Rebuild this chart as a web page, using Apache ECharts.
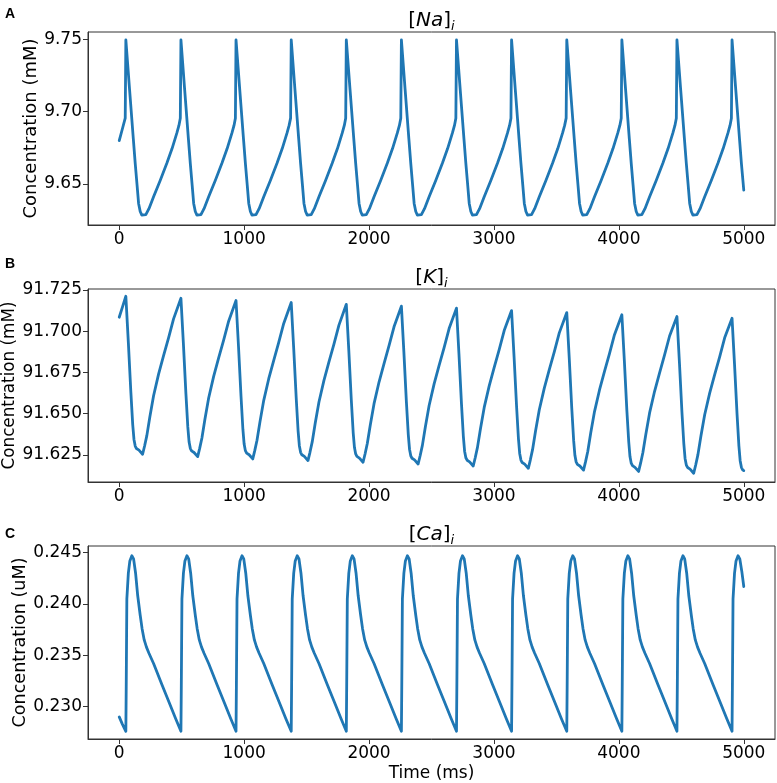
<!DOCTYPE html>
<html>
<head>
<meta charset="utf-8">
<script src="https://cdn.jsdelivr.net/npm/echarts@6/dist/echarts.min.js"></script>
<style>html,body{margin:0;padding:0;background:#fff}#c{width:777px;height:783px}</style>
</head>
<body>
<div id="c"></div>
<script>
// ---------------- data ----------------
const timeTicks = [0, 1000, 2000, 3000, 4000, 5000];
const naTicks = [9.65, 9.70, 9.75];
const kTicks = [91.625, 91.650, 91.675, 91.700, 91.725];
const caTicks = [0.230, 0.235, 0.240, 0.245];

const panelTitles = ['Na', 'K', 'Ca'];
const panelLetters = ['A', 'B', 'C'];
const yNames = ['Concentration (mM)', 'Concentration (mM)', 'Concentration (uM)'];
const xName = 'Time (ms)';

const naData = [
[0,9.680],[25,9.688],[48,9.6955],
[53,9.7495],[83,9.7150],[113,9.6810],[128,9.6643],[143,9.6490],[155,9.6366],[168,9.6310],[181,9.6285],[195,9.6276],[213,9.6288],[238,9.6330],[275,9.6412],[328,9.6525],[381,9.6643],[423,9.6745],[461,9.6851],[478,9.6905],
[489,9.6955],[494,9.7495],[524,9.7150],[554,9.6810],[569,9.6643],[584,9.6490],[596,9.6366],[609,9.6310],[622,9.6285],[636,9.6276],[654,9.6288],[679,9.6330],[716,9.6412],[769,9.6525],[822,9.6643],[864,9.6745],[902,9.6851],[919,9.6905],
[930,9.6955],[935,9.7495],[965,9.7150],[995,9.6810],[1010,9.6643],[1025,9.6490],[1037,9.6366],[1050,9.6310],[1063,9.6285],[1077,9.6276],[1095,9.6288],[1120,9.6330],[1157,9.6412],[1210,9.6525],[1263,9.6643],[1305,9.6745],[1343,9.6851],[1360,9.6905],
[1372,9.6955],[1377,9.7495],[1407,9.7150],[1437,9.6810],[1452,9.6643],[1467,9.6490],[1479,9.6366],[1492,9.6310],[1505,9.6285],[1519,9.6276],[1537,9.6288],[1562,9.6330],[1599,9.6412],[1652,9.6525],[1705,9.6643],[1747,9.6745],[1785,9.6851],[1802,9.6905],
[1813,9.6955],[1818,9.7495],[1848,9.7150],[1878,9.6810],[1893,9.6643],[1908,9.6490],[1920,9.6366],[1933,9.6310],[1946,9.6285],[1960,9.6276],[1978,9.6288],[2003,9.6330],[2040,9.6412],[2093,9.6525],[2146,9.6643],[2188,9.6745],[2226,9.6851],[2243,9.6905],
[2254,9.6955],[2259,9.7495],[2289,9.7150],[2319,9.6810],[2334,9.6643],[2349,9.6490],[2361,9.6366],[2374,9.6310],[2387,9.6285],[2401,9.6276],[2419,9.6288],[2444,9.6330],[2481,9.6412],[2534,9.6525],[2587,9.6643],[2629,9.6745],[2667,9.6851],[2684,9.6905],
[2695,9.6955],[2700,9.7495],[2730,9.7150],[2760,9.6810],[2775,9.6643],[2790,9.6490],[2802,9.6366],[2815,9.6310],[2828,9.6285],[2842,9.6276],[2860,9.6288],[2885,9.6330],[2922,9.6412],[2975,9.6525],[3028,9.6643],[3070,9.6745],[3108,9.6851],[3125,9.6905],
[3136,9.6955],[3141,9.7495],[3171,9.7150],[3201,9.6810],[3216,9.6643],[3231,9.6490],[3243,9.6366],[3256,9.6310],[3269,9.6285],[3283,9.6276],[3301,9.6288],[3326,9.6330],[3363,9.6412],[3416,9.6525],[3469,9.6643],[3511,9.6745],[3549,9.6851],[3566,9.6905],
[3578,9.6955],[3583,9.7495],[3613,9.7150],[3643,9.6810],[3658,9.6643],[3673,9.6490],[3685,9.6366],[3698,9.6310],[3711,9.6285],[3725,9.6276],[3743,9.6288],[3768,9.6330],[3805,9.6412],[3858,9.6525],[3911,9.6643],[3953,9.6745],[3991,9.6851],[4008,9.6905],
[4019,9.6955],[4024,9.7495],[4054,9.7150],[4084,9.6810],[4099,9.6643],[4114,9.6490],[4126,9.6366],[4139,9.6310],[4152,9.6285],[4166,9.6276],[4184,9.6288],[4209,9.6330],[4246,9.6412],[4299,9.6525],[4352,9.6643],[4394,9.6745],[4432,9.6851],[4449,9.6905],
[4460,9.6955],[4465,9.7495],[4495,9.7150],[4525,9.6810],[4540,9.6643],[4555,9.6490],[4567,9.6366],[4580,9.6310],[4593,9.6285],[4607,9.6276],[4625,9.6288],[4650,9.6330],[4687,9.6412],[4740,9.6525],[4793,9.6643],[4835,9.6745],[4873,9.6851],[4890,9.6905],
[4901,9.6955],[4906,9.7495],[4936,9.7150],[4966,9.6810],[4981,9.6643],[5000,9.6458]
];

const kData = [
[0,91.7085],[25,91.7145],
[53,91.7212],[73,91.6932],[93,91.6632],[108,91.6434],[118,91.6344],[128,91.6304],[138,91.6289],[158,91.6279],[173,91.6269],[187,91.6254],[203,91.6304],[221,91.6367],[245,91.6480],[275,91.6609],[315,91.6740],[355,91.6852],[395,91.6960],[435,91.7075],
[494,91.7200],[514,91.6920],[534,91.6620],[549,91.6420],[559,91.6330],[569,91.6290],[579,91.6275],[599,91.6265],[614,91.6255],[628,91.6240],[644,91.6290],[662,91.6353],[686,91.6466],[716,91.6595],[756,91.6726],[796,91.6838],[836,91.6946],[876,91.7061],
[935,91.7186],[955,91.6906],[975,91.6606],[990,91.6406],[1000,91.6316],[1010,91.6276],[1020,91.6261],[1040,91.6251],[1055,91.6241],[1069,91.6226],[1085,91.6276],[1103,91.6339],[1127,91.6452],[1157,91.6581],[1197,91.6712],[1237,91.6824],[1277,91.6932],[1317,91.7047],
[1377,91.7174],[1397,91.6894],[1417,91.6594],[1432,91.6396],[1442,91.6306],[1452,91.6266],[1462,91.6251],[1482,91.6241],[1497,91.6231],[1511,91.6216],[1527,91.6266],[1545,91.6329],[1569,91.6442],[1599,91.6571],[1639,91.6702],[1679,91.6814],[1719,91.6922],[1759,91.7037],
[1818,91.7163],[1838,91.6883],[1858,91.6583],[1873,91.6386],[1883,91.6296],[1893,91.6256],[1903,91.6241],[1923,91.6231],[1938,91.6221],[1952,91.6206],[1968,91.6256],[1986,91.6319],[2010,91.6432],[2040,91.6561],[2080,91.6692],[2120,91.6804],[2160,91.6912],[2200,91.7027],
[2259,91.7152],[2279,91.6872],[2299,91.6572],[2314,91.6375],[2324,91.6285],[2334,91.6245],[2344,91.6230],[2364,91.6220],[2379,91.6210],[2393,91.6195],[2409,91.6245],[2427,91.6308],[2451,91.6421],[2481,91.6550],[2521,91.6681],[2561,91.6793],[2601,91.6901],[2641,91.7016],
[2700,91.7140],[2720,91.6860],[2740,91.6560],[2755,91.6363],[2765,91.6273],[2775,91.6233],[2785,91.6218],[2805,91.6208],[2820,91.6198],[2834,91.6183],[2850,91.6233],[2868,91.6296],[2892,91.6409],[2922,91.6538],[2962,91.6669],[3002,91.6781],[3042,91.6889],[3082,91.7004],
[3141,91.7125],[3161,91.6845],[3181,91.6545],[3196,91.6349],[3206,91.6259],[3216,91.6219],[3226,91.6204],[3246,91.6194],[3261,91.6184],[3275,91.6169],[3291,91.6219],[3309,91.6282],[3333,91.6395],[3363,91.6524],[3403,91.6655],[3443,91.6767],[3483,91.6875],[3523,91.6990],
[3583,91.7113],[3603,91.6833],[3623,91.6533],[3638,91.6338],[3648,91.6248],[3658,91.6208],[3668,91.6193],[3688,91.6183],[3703,91.6173],[3717,91.6158],[3733,91.6208],[3751,91.6271],[3775,91.6384],[3805,91.6513],[3845,91.6644],[3885,91.6756],[3925,91.6864],[3965,91.6979],
[4024,91.7100],[4044,91.6820],[4064,91.6520],[4079,91.6330],[4089,91.6240],[4099,91.6200],[4109,91.6185],[4129,91.6175],[4144,91.6165],[4158,91.6150],[4174,91.6200],[4192,91.6263],[4216,91.6376],[4246,91.6505],[4286,91.6636],[4326,91.6748],[4366,91.6856],[4406,91.6971],
[4465,91.7089],[4485,91.6809],[4505,91.6509],[4520,91.6319],[4530,91.6229],[4540,91.6189],[4550,91.6174],[4570,91.6164],[4585,91.6154],[4599,91.6139],[4615,91.6189],[4633,91.6252],[4657,91.6365],[4687,91.6494],[4727,91.6625],[4767,91.6737],[4807,91.6845],[4847,91.6960],
[4906,91.7079],[4926,91.6799],[4946,91.6499],[4961,91.6305],[4971,91.6215],[4981,91.6175],[4991,91.6160],[5000,91.6155]
];

const caData = [
[0,0.2290],[25,0.2283],
[53,0.2276],[56,0.2320],[61,0.2405],[73,0.2430],[85,0.2442],[101,0.2447],[115,0.2444],[131,0.2430],[148,0.2408],[168,0.2389],[183,0.2376],[200,0.2365],[218,0.2358],[238,0.2352],[275,0.2342],[343,0.2321],[403,0.2303],[453,0.2288],
[494,0.2276],[497,0.2320],[502,0.2405],[514,0.2430],[526,0.2442],[542,0.2447],[556,0.2444],[572,0.2430],[589,0.2408],[609,0.2389],[624,0.2376],[641,0.2365],[659,0.2358],[679,0.2352],[716,0.2342],[784,0.2321],[844,0.2303],[894,0.2288],
[935,0.2276],[938,0.2320],[943,0.2405],[955,0.2430],[967,0.2442],[983,0.2447],[997,0.2444],[1013,0.2430],[1030,0.2408],[1050,0.2389],[1065,0.2376],[1082,0.2365],[1100,0.2358],[1120,0.2352],[1157,0.2342],[1225,0.2321],[1285,0.2303],[1335,0.2288],
[1377,0.2276],[1380,0.2320],[1385,0.2405],[1397,0.2430],[1409,0.2442],[1425,0.2447],[1439,0.2444],[1455,0.2430],[1472,0.2408],[1492,0.2389],[1507,0.2376],[1524,0.2365],[1542,0.2358],[1562,0.2352],[1599,0.2342],[1667,0.2321],[1727,0.2303],[1777,0.2288],
[1818,0.2276],[1821,0.2320],[1826,0.2405],[1838,0.2430],[1850,0.2442],[1866,0.2447],[1880,0.2444],[1896,0.2430],[1913,0.2408],[1933,0.2389],[1948,0.2376],[1965,0.2365],[1983,0.2358],[2003,0.2352],[2040,0.2342],[2108,0.2321],[2168,0.2303],[2218,0.2288],
[2259,0.2276],[2262,0.2320],[2267,0.2405],[2279,0.2430],[2291,0.2442],[2307,0.2447],[2321,0.2444],[2337,0.2430],[2354,0.2408],[2374,0.2389],[2389,0.2376],[2406,0.2365],[2424,0.2358],[2444,0.2352],[2481,0.2342],[2549,0.2321],[2609,0.2303],[2659,0.2288],
[2700,0.2276],[2703,0.2320],[2708,0.2405],[2720,0.2430],[2732,0.2442],[2748,0.2447],[2762,0.2444],[2778,0.2430],[2795,0.2408],[2815,0.2389],[2830,0.2376],[2847,0.2365],[2865,0.2358],[2885,0.2352],[2922,0.2342],[2990,0.2321],[3050,0.2303],[3100,0.2288],
[3141,0.2276],[3144,0.2320],[3149,0.2405],[3161,0.2430],[3173,0.2442],[3189,0.2447],[3203,0.2444],[3219,0.2430],[3236,0.2408],[3256,0.2389],[3271,0.2376],[3288,0.2365],[3306,0.2358],[3326,0.2352],[3363,0.2342],[3431,0.2321],[3491,0.2303],[3541,0.2288],
[3583,0.2276],[3586,0.2320],[3591,0.2405],[3603,0.2430],[3615,0.2442],[3631,0.2447],[3645,0.2444],[3661,0.2430],[3678,0.2408],[3698,0.2389],[3713,0.2376],[3730,0.2365],[3748,0.2358],[3768,0.2352],[3805,0.2342],[3873,0.2321],[3933,0.2303],[3983,0.2288],
[4024,0.2276],[4027,0.2320],[4032,0.2405],[4044,0.2430],[4056,0.2442],[4072,0.2447],[4086,0.2444],[4102,0.2430],[4119,0.2408],[4139,0.2389],[4154,0.2376],[4171,0.2365],[4189,0.2358],[4209,0.2352],[4246,0.2342],[4314,0.2321],[4374,0.2303],[4424,0.2288],
[4465,0.2276],[4468,0.2320],[4473,0.2405],[4485,0.2430],[4497,0.2442],[4513,0.2447],[4527,0.2444],[4543,0.2430],[4560,0.2408],[4580,0.2389],[4595,0.2376],[4612,0.2365],[4630,0.2358],[4650,0.2352],[4687,0.2342],[4755,0.2321],[4815,0.2303],[4865,0.2288],
[4906,0.2276],[4909,0.2320],[4914,0.2405],[4926,0.2430],[4938,0.2442],[4954,0.2447],[4968,0.2444],[4984,0.2432],[5000,0.2417]
];

// ---------------- layout ----------------
const FONT = 'DejaVu Sans';
const LINE = '#1f77b4';
const panels = [
  {top: 32, yMin: 9.6217, yMax: 9.7550, ticks: naTicks, dec: 2, data: naData, nameSize: 18, nameX: 31, letterY: 14},
  {top: 289, yMin: 91.6086, yMax: 91.7256, ticks: kTicks, dec: 3, data: kData, nameSize: 16.8, nameX: 10, letterY: 264},
  {top: 546, yMin: 0.22685, yMax: 0.24565, ticks: caTicks, dec: 3, data: caData, nameSize: 17.6, nameX: 20, letterY: 534}
];
const GL = 88, GW = 687, GH = 193;

const grid = [], xAxis = [], yAxis = [], series = [], graphic = [];
panels.forEach((p, i) => {
  grid.push({left: GL, top: p.top, width: GW, height: GH, containLabel: false, outerBoundsMode: 'none',
    show: true, borderColor: '#333', borderWidth: 1, backgroundColor: '#fff'});
  xAxis.push({
    type: 'value', gridIndex: i, min: -250, max: 5250,
    axisLine: {show: true, onZero: false, lineStyle: {color: '#333', width: 1}},
    splitLine: {show: false},
    axisTick: {show: true, length: 5, customValues: timeTicks, lineStyle: {color: '#333', width: 1}},
    axisLabel: {customValues: timeTicks, fontSize: 17, fontFamily: FONT, color: '#000', margin: 6, lineHeight: 17, formatter: v => String(Math.round(v))},
    name: i === 2 ? xName : '', nameLocation: 'middle', nameGap: 26, nameMoveOverlap: false,
    nameTextStyle: {fontSize: 17, fontFamily: FONT, color: '#000'}
  });
  yAxis.push({
    type: 'value', gridIndex: i, min: p.yMin, max: p.yMax,
    axisLine: {show: true, onZero: false, lineStyle: {color: '#333', width: 1}},
    splitLine: {show: false},
    axisTick: {show: true, length: 5, customValues: p.ticks, lineStyle: {color: '#333', width: 1}},
    axisLabel: {customValues: p.ticks, fontSize: 17, fontFamily: FONT, color: '#000', margin: 6, formatter: v => Number(v).toFixed(p.dec)},
    name: yNames[i], nameLocation: 'middle', nameGap: GL - p.nameX, nameMoveOverlap: false,
    nameTextStyle: {fontSize: p.nameSize, fontFamily: FONT, color: '#000', verticalAlign: 'middle'}
  });
  series.push({
    type: 'line', xAxisIndex: i, yAxisIndex: i, data: p.data,
    showSymbol: false, symbol: 'none', smooth: false, animation: false,
    lineStyle: {color: LINE, width: 2.8, cap: 'round', join: 'round'}
  });
  graphic.push({
    type: 'text', x: GL + GW / 2, y: p.top - 11,
    style: {
      text: '{b|[}{i|' + panelTitles[i] + '}{b|]}{s|i}',
      align: 'center', verticalAlign: 'middle',
      rich: {
        b: {fontSize: 20, fontFamily: FONT, fill: '#000', color: '#000', lineHeight: 24},
        i: {fontSize: 20, fontFamily: FONT, fontStyle: 'italic', fill: '#000', color: '#000', lineHeight: 24},
        s: {fontSize: 13, fontFamily: FONT, fontStyle: 'italic', fill: '#000', color: '#000', lineHeight: 14, verticalAlign: 'bottom'}
      }
    }
  });
  graphic.push({
    type: 'text', x: 10, y: p.letterY,
    style: {text: panelLetters[i], font: 'bold 14px "Liberation Sans", Arial, sans-serif', fill: '#000', align: 'center', verticalAlign: 'middle'}
  });
});

const chart = echarts.init(document.getElementById('c'), null, {renderer: 'canvas'});
chart.setOption({
  animation: false,
  backgroundColor: '#fff',
  grid, xAxis, yAxis, series, graphic
});
</script>
</body>
</html>
